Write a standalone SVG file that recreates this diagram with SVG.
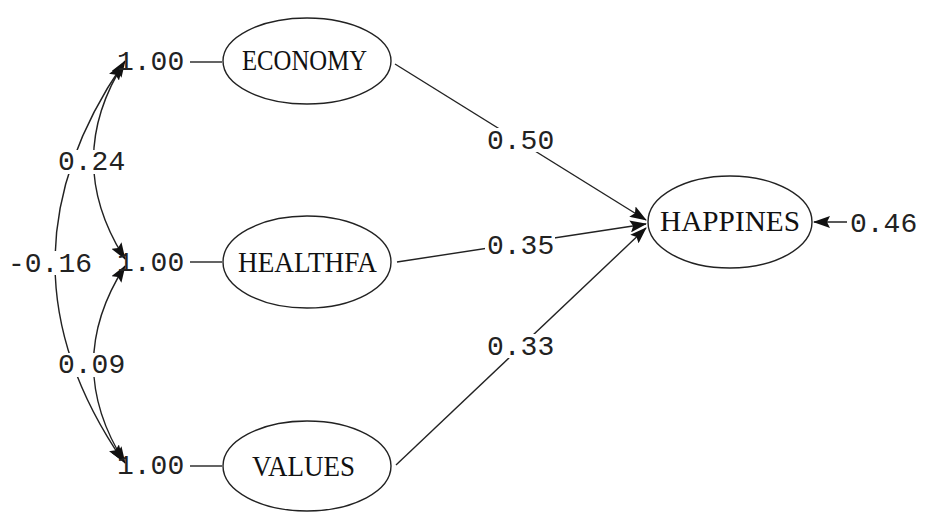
<svg xmlns="http://www.w3.org/2000/svg" width="925" height="515" viewBox="0 0 925 515">
<defs>
<marker id="ah" markerUnits="userSpaceOnUse" markerWidth="17" markerHeight="12" refX="16" refY="6" orient="auto-start-reverse" viewBox="0 0 17 12">
<path d="M0,0 L17,6 L0,12 L3,6 z" fill="#111"/>
</marker>
</defs>
<style>
.ell{fill:#fff;stroke:#222;stroke-width:1.4}
.node{font-family:"Liberation Serif",serif;font-size:29px;fill:#111}
.num{font-family:"Liberation Mono",monospace;font-size:28px;fill:#222}
.ln{fill:none;stroke:#222;stroke-width:1.4}
.bg{fill:#fff}
</style>
<rect width="925" height="515" fill="#fff"/>
<g id="connectors">
<path class="ln" d="M395,64 L646,220" marker-end="url(#ah)"/>
<path class="ln" d="M397,262 L646,224" marker-end="url(#ah)"/>
<path class="ln" d="M396,465 L646,228" marker-end="url(#ah)"/>
<path class="ln" d="M847,222 L814,222" marker-end="url(#ah)"/>
<path class="ln" d="M190,62 L222,62"/>
<path class="ln" d="M190,262 L222,262"/>
<path class="ln" d="M190,466 L222,466"/>
<path class="ln" d="M125,61 Q62,160 125,259" marker-start="url(#ah)" marker-end="url(#ah)"/>
<path class="ln" d="M125,266 Q62,364 125,463" marker-start="url(#ah)" marker-end="url(#ah)"/>
<path class="ln" d="M123,64 Q-13,263 123,461" marker-start="url(#ah)" marker-end="url(#ah)"/>
</g>
<g id="labels">
<rect class="bg" x="485" y="128" width="70" height="24"/>
<text class="num" x="487" y="149">0.50</text>
<rect class="bg" x="485" y="233" width="70" height="24"/>
<text class="num" x="487" y="254">0.35</text>
<rect class="bg" x="485" y="334" width="70" height="24"/>
<text class="num" x="487" y="355">0.33</text>
<rect class="bg" x="56" y="150" width="70" height="24"/>
<text class="num" x="58" y="170">0.24</text>
<rect class="bg" x="56" y="353" width="70" height="24"/>
<text class="num" x="58" y="373">0.09</text>
<rect class="bg" x="8" y="251" width="86" height="24"/>
<text class="num" x="8" y="272">-0.16</text>
<text class="num" x="850" y="232">0.46</text>
<text class="num" x="117" y="70">1.00</text>
<text class="num" x="117" y="271">1.00</text>
<text class="num" x="117" y="474">1.00</text>
</g>
<g id="economy">
<ellipse class="ell" cx="307" cy="61" rx="84" ry="43"/>
<text class="node" x="242" y="70" textLength="125" lengthAdjust="spacingAndGlyphs">ECONOMY</text>
</g>
<g id="healthfa">
<ellipse class="ell" cx="307" cy="262" rx="84" ry="46"/>
<text class="node" x="238" y="272" textLength="139" lengthAdjust="spacingAndGlyphs">HEALTHFA</text>
</g>
<g id="values">
<ellipse class="ell" cx="307" cy="466" rx="84" ry="45"/>
<text class="node" x="252" y="476" textLength="103" lengthAdjust="spacingAndGlyphs">VALUES</text>
</g>
<g id="happines">
<ellipse class="ell" cx="730" cy="222" rx="82" ry="46"/>
<text class="node" x="660" y="231" textLength="140" lengthAdjust="spacingAndGlyphs">HAPPINES</text>
</g>
</svg>
